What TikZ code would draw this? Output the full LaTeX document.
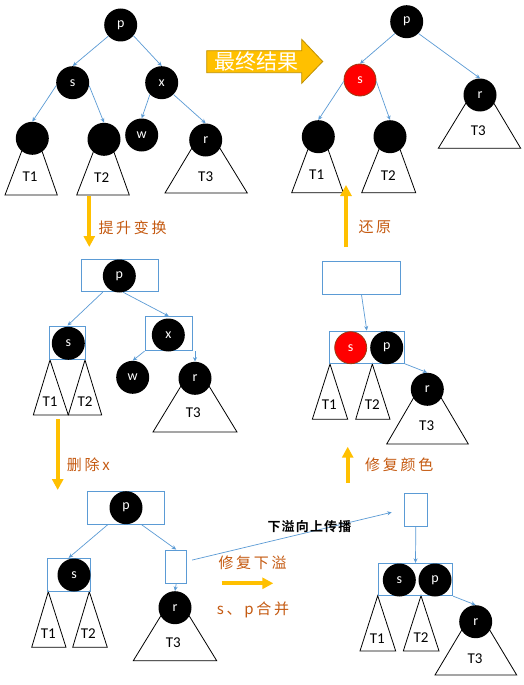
\documentclass[tikz,border=0pt]{standalone}
\usepackage{fontspec}
\usetikzlibrary{arrows.meta}
\newfontfamily\cjk{Noto Sans CJK SC}
\newfontfamily\cjksp[LetterSpace=18]{Noto Sans CJK SC}
\newfontfamily\cjkbsp[LetterSpace=9]{Noto Sans CJK SC Bold}
\newfontfamily\lat{Carlito}
\definecolor{blueC}{HTML}{5B9BD5}
\definecolor{goldC}{HTML}{FFC000}
\definecolor{goldD}{HTML}{BF9000}
\definecolor{orangeC}{HTML}{C55A11}
\definecolor{redO}{HTML}{9C3A10}
\tikzset{
  bn/.style={circle, fill=black, minimum size=33pt, inner sep=0pt, text=white, font=\lat\fontsize{14}{14}\selectfont},
  rn/.style={bn, fill=red, draw=redO, line width=0.8pt, minimum size=32pt},
  tri/.style={draw=black, line width=0.8pt, fill=white},
  tlab/.style={inner sep=0pt, font=\lat\fontsize{15}{15}\selectfont},
  bx/.style={draw=blueC, line width=0.9pt, inner sep=0pt},
  bl/.style={draw=blueC, line width=0.7pt, -{Stealth[length=4.5pt,width=4pt]}},
  gold/.style={draw=goldC, line width=4pt, -{Triangle[width=11pt,length=11pt]}},
  olab/.style={anchor=west, inner sep=0pt, text=orangeC, font=\cjksp\fontsize{15}{15}\selectfont}
}
\begin{document}
\begin{tikzpicture}[x=1pt,y=-1pt]
\useasboundingbox (0,0) rectangle (524,685);
\fill[white] (0,0) rectangle (524,685);

% ---------- top-left tree ----------
\draw[tri] (32.3,123.3) -- (5,195) -- (57.3,195) -- cycle;
\node[tlab] (lt1A) at (30,177) {T1};
\draw[tri] (104,124.3) -- (76.7,195) -- (129.3,195) -- cycle;
\node[tlab] (lt2A) at (101.7,178) {T2};
\draw[tri] (205.7,125) -- (165,193) -- (247.3,193) -- cycle;
\node[tlab] (lt3A) at (205.7,176.7) {T3};
\node[bn] (pA) at (120.7,25) {p};
\node[bn] (sA) at (72.7,82.7) {s};
\node[bn] (xA) at (161.7,82.7) {x};
\node[bn] (c1A) at (32.3,138.3) {};
\node[bn] (c2A) at (104,139.3) {};
\node[bn] (wA) at (141.7,135) {w};
\node[bn] (rA) at (205.7,140) {r};
\draw[bl] (pA.222) -- (sA.north);
\draw[bl] (pA.-40) -- (xA.north);
\draw[bl] (sA.190) -- (c1A.north);
\draw[bl] (sA.-10) -- (c2A.north);
\draw[bl] (xA.-135) -- (wA.north);
\draw[bl] (xA.-45) -- (rA.north);

% ---------- big arrow ----------
\draw[fill=goldC, draw=goldD, line width=0.8pt] (206.7,50.7) -- (301.7,50.7) -- (301.7,39.3) -- (322.7,61.5) -- (301.7,83.3) -- (301.7,72.7) -- (206.7,72.7) -- cycle;
\node[text=white, inner sep=0pt, font=\cjk\fontsize{21}{21}\selectfont] (res) at (256,61.5) {最终结果};

% ---------- top-right tree ----------
\draw[tri] (318.3,121.7) -- (291.7,192.7) -- (343.3,192.7) -- cycle;
\node[tlab] (lt1B) at (316.7,175) {T1};
\draw[tri] (390,121.7) -- (361.7,192.7) -- (415.7,192.7) -- cycle;
\node[tlab] (lt2B) at (388.3,176) {T2};
\draw[tri] (480,80) -- (438.3,148.3) -- (520.7,148.3) -- cycle;
\node[tlab] (lt3B) at (478.3,131) {T3};
\node[bn] (pB) at (406.7,21.7) {p};
\node[rn] (sB) at (360,80) {s};
\node[bn] (rB) at (480,95) {r};
\node[bn] (c1B) at (318.3,136.7) {};
\node[bn] (c2B) at (390,136.7) {};
\draw[bl] (pB.-135) -- (sB.north);
\draw[bl] (pB.-45) -- (rB.north);
\draw[bl] (sB.185) -- (c1B.north);
\draw[bl] (sB.-5) -- (c2B.north);

% ---------- gold arrows ----------
\coordinate (g1a) at (89.3,196);  \coordinate (g1b) at (89.3,247);
\coordinate (g2a) at (57.7,419);  \coordinate (g2b) at (57.7,490);
\coordinate (g3a) at (346,247);   \coordinate (g3b) at (346,185);
\coordinate (g4a) at (347.7,483); \coordinate (g4b) at (347.7,446.7);
\coordinate (g5a) at (221.7,583.3); \coordinate (g5b) at (273.3,583.3);
\draw[gold] (g1a) -- (g1b);
\draw[gold] (g2a) -- (g2b);
\draw[gold] (g3a) -- (g3b);
\draw[gold] (g4a) -- (g4b);
\draw[gold] (g5a) -- (g5b);
\node[olab] (l1) at (98.3,228) {提升变换};
\node[olab] (l2) at (358.3,227) {还原};
\node[olab] (l3) at (66.7,465) {删除x};
\node[olab] (l4) at (365,465) {修复颜色};
\node[olab] (l5) at (218.3,562.7) {修复下溢};
\node[olab] (l6) at (216.7,610) {s、p合并};

% ---------- middle-left ----------
\draw[tri] (50,360) -- (33.3,415) -- (68.3,415) -- cycle;
\node[tlab] (lt1C) at (50,401.7) {T1};
\draw[tri] (85,360) -- (68.3,415) -- (101.7,415) -- cycle;
\node[tlab] (lt2C) at (85,401.7) {T2};
\draw[tri] (195,363) -- (153,432) -- (237,432) -- cycle;
\node[tlab] (lt3C) at (193.3,413) {T3};
\node[bx, minimum width=76.6pt, minimum height=32.4pt] (pbC) at (120,275.5) {};
\node[bx, minimum width=36.4pt, minimum height=33.3pt] (sbC) at (67.5,342.65) {};
\node[bx, minimum width=47.7pt, minimum height=34pt] (xbC) at (168.85,333.7) {};
\node[bn] (pC) at (119.3,276) {p};
\node[bn] (sC) at (68.3,343.3) {s};
\node[bn] (xC) at (168.3,335) {x};
\node[bn] (wC) at (132.7,377.3) {w};
\node[bn] (rC) at (195,378.3) {r};
\draw[bl] (pbC.-136) -- (sbC.north);
\draw[bl] (pbC.-80) -- (xbC.north);
\draw[bl] (xbC.south west) -- (wC.north);
\draw[bl] (rC.north |- xbC.south) -- (rC.north);

% ---------- middle-right ----------
\draw[tri] (330,364) -- (312.3,419.3) -- (347.7,419.3) -- cycle;
\node[tlab] (lt1D) at (329.3,405) {T1};
\draw[tri] (372.3,364) -- (355.7,419.3) -- (390,419.3) -- cycle;
\node[tlab] (lt2D) at (372.3,405) {T2};
\draw[tri] (427.3,374.3) -- (386.7,444) -- (468.3,444) -- cycle;
\node[tlab] (lt3D) at (426.7,426) {T3};
\node[bx, minimum width=78.4pt, minimum height=33.3pt] (ebD) at (361.5,277.65) {};
\node[bx, minimum width=75pt, minimum height=32.3pt] (spbD) at (366.8,347.15) {};
\node[rn] (sD) at (350.7,347.7) {s};
\node[bn] (pD) at (386.7,347.7) {p};
\node[bn] (rD) at (427.3,389.3) {r};
\draw[bl] (ebD.south) -- (spbD.north);
\draw[bl] (spbD.south east) -- (rD.north);

% ---------- bottom-left ----------
\draw[tri] (48.3,591.7) -- (31.7,647.3) -- (66,647.3) -- cycle;
\node[tlab] (lt1E) at (48.3,634) {T1};
\draw[tri] (89.3,591.7) -- (72.7,647.3) -- (107.3,647.3) -- cycle;
\node[tlab] (lt2E) at (88.3,634) {T2};
\draw[tri] (175,592.7) -- (133.3,660.7) -- (216.7,660.7) -- cycle;
\node[tlab] (lt3E) at (173.3,642.7) {T3};
\node[bx, minimum width=77pt, minimum height=32.3pt] (pbE) at (125.8,507.85) {};
\node[bx, minimum width=42.7pt, minimum height=32.7pt] (sbE) at (68.65,574.65) {};
\node[bx, minimum width=21pt, minimum height=33.3pt] (smE) at (176.2,566.65) {};
\node[bn] (pE) at (126,507.7) {p};
\node[bn] (sE) at (74,575) {s};
\node[bn] (rE) at (175,607.7) {r};
\draw[bl] (pbE.-137) -- (sbE.north);
\draw[bl] (pbE.-47) -- (smE.north);
\draw[bl] (smE.south) -- (rE.north);

% ---------- bottom-right ----------
\draw[tri] (377.7,595.7) -- (360,651) -- (395.7,651) -- cycle;
\node[tlab] (lt1F) at (377.3,638.3) {T1};
\draw[tri] (421,595.7) -- (403.3,651) -- (439,651) -- cycle;
\node[tlab] (lt2F) at (421,638) {T2};
\draw[tri] (475.7,606.7) -- (435,675) -- (516.7,675) -- cycle;
\node[tlab] (lt3F) at (475,658.3) {T3};
\node[bx, minimum width=23pt, minimum height=32.7pt] (smF) at (415.8,509.65) {};
\node[bx, minimum width=74.4pt, minimum height=32.4pt] (spbF) at (415.5,579.5) {};
\node[bn] (sF) at (399.3,580) {s};
\node[bn] (pF) at (435,580) {p};
\node[bn] (rF) at (475.7,621.7) {r};
\draw[bl] (smF.south) -- (spbF.north);
\draw[bl] (spbF.south east) -- (rF.north);

% ---------- long overflow line ----------
\coordinate (lend) at (391.7,512.3);
\draw[bl] ([xshift=5pt,yshift=6.6pt]smE.east) -- (lend);
\node[inner sep=0pt, font=\cjkbsp\fontsize{13}{13}\selectfont] (lup) at (309.5,527) {下溢向上传播};
\end{tikzpicture}
\end{document}
